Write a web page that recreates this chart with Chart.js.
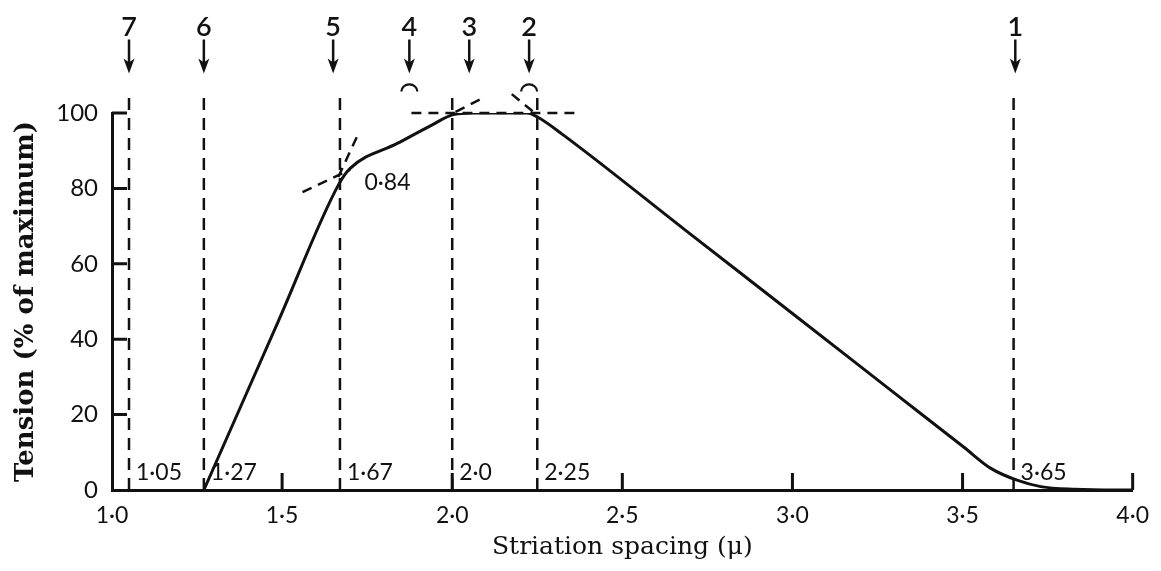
<!DOCTYPE html>
<html>
<head>
<meta charset="utf-8">
<title>Tension vs striation spacing</title>
<script src="https://cdn.jsdelivr.net/npm/chart.js@4.4.1/dist/chart.umd.min.js"></script>
<style>
  html, body { margin: 0; padding: 0; background: #fff; }
  #wrap { width: 1161px; height: 571px; }
</style>
</head>
<body>
<div id="wrap"><canvas id="chart"></canvas></div>
<script>
// length-tension curve
const spacing = [1.27, 1.49, 1.666, 1.70, 1.84, 1.94, 2.0, 2.06, 2.22, 2.253, 2.32, 2.684, 3.016, 3.3, 3.506, 3.582, 3.66, 3.73, 3.83, 3.95, 4.0];
const tension = [0, 45, 81, 85.3, 92, 96.8, 99.5, 100, 100, 98.8, 94.6, 69, 45.7, 25.7, 11.2, 5.8, 2.6, 0.9, 0.2, 0, 0];

// dashed reference spacings and their labels
const markerX = [1.05, 1.27, 1.67, 2.0, 2.25, 3.65];
const markerText = ['1·05', '1·27', '1·67', '2·0', '2·25', '3·65'];
const markerTop = 105.5;

// numbered arrows above the plot
const arrowX = [3.655, 2.226, 2.05, 1.874, 1.65, 1.27, 1.05];
const arrowText = ['1', '2', '3', '4', '5', '6', '7'];
const arrowTop = 119.5;
const arrowTip = 110.5;
const bracketed = ['2', '4'];

// construction lines: plateau and tangents
const plateauLine = [[1.88, 100], [2.37, 100]];
const tangentLines = [
  [[1.56, 79], [1.70, 85]],
  [[1.665, 83], [1.725, 94.7]],
  [[2.01, 100.3], [2.09, 104]],
  [[2.175, 105], [2.24, 100.2]]
];
const slopeNote = { x: 1.745, y: 81.5, text: '0·84' };

const xTicks = [1.0, 1.5, 2.0, 2.5, 3.0, 3.5, 4.0];
const yTicks = [0, 20, 40, 60, 80, 100];

const ink = '#111';
const sans = 'Lato, "Open Sans", sans-serif';
const serif = '"DejaVu Serif", "Liberation Serif", serif';

function segments(list) {
  const pts = [];
  list.forEach(seg => {
    seg.forEach(p => pts.push({ x: p[0], y: p[1] }));
    pts.push({ x: seg[seg.length - 1][0], y: null });
  });
  return pts;
}

const curve = spacing.map((s, i) => ({ x: s, y: tension[i] }));
const verticals = segments(markerX.map(v => [[v, 0], [v, markerTop]]));
const guides = segments([plateauLine].concat(tangentLines));
const shafts = segments(arrowX.map(v => [[v, arrowTop], [v, arrowTip + 2]]));

// inward tick marks, arrowheads and the text notes around the curve
const notes = {
  id: 'notes',
  afterDatasetsDraw(chart) {
    const { ctx, chartArea, scales: { x, y } } = chart;
    ctx.save();
    ctx.strokeStyle = ink;
    ctx.fillStyle = ink;
    ctx.lineWidth = 3;
    ctx.beginPath();
    yTicks.forEach(v => {
      if (v === 0) return;
      const py = y.getPixelForValue(v);
      ctx.moveTo(chartArea.left, py);
      ctx.lineTo(chartArea.left + 15, py);
    });
    xTicks.forEach(v => {
      if (v === 1.0) return;
      const px = x.getPixelForValue(v);
      ctx.moveTo(px, chartArea.bottom);
      ctx.lineTo(px, chartArea.bottom - 17);
    });
    ctx.stroke();

    // arrowheads
    arrowX.forEach(v => {
      const px = x.getPixelForValue(v);
      const py = y.getPixelForValue(arrowTip);
      ctx.beginPath();
      ctx.moveTo(px, py);
      ctx.lineTo(px - 5.5, py - 15);
      ctx.lineTo(px, py - 11);
      ctx.lineTo(px + 5.5, py - 15);
      ctx.closePath();
      ctx.fill();
    });

    // arrow numbers
    ctx.font = '600 27px ' + sans;
    ctx.textAlign = 'center';
    ctx.textBaseline = 'middle';
    arrowText.forEach((t, i) => {
      ctx.fillText(t, x.getPixelForValue(arrowX[i]), y.getPixelForValue(arrowTop) - 12);
    });

    // small brackets under arrows 2 and 4
    ctx.lineWidth = 2.2;
    bracketed.forEach(t => {
      const i = arrowText.indexOf(t);
      const px = x.getPixelForValue(arrowX[i]);
      const py = y.getPixelForValue(arrowTip) + 18;
      ctx.beginPath();
      ctx.ellipse(px, py, 8, 7, 0, Math.PI, 2 * Math.PI);
      ctx.stroke();
    });

    // spacing labels along the base
    ctx.font = '23px ' + sans;
    ctx.textAlign = 'left';
    markerText.forEach((t, i) => {
      ctx.fillText(t, x.getPixelForValue(markerX[i]) + 7, y.getPixelForValue(4.5));
    });

    ctx.textAlign = 'center';
    ctx.fillText(slopeNote.text, x.getPixelForValue(slopeNote.x) + 22, y.getPixelForValue(slopeNote.y));
    ctx.restore();
  }
};

new Chart(document.getElementById('chart'), {
  type: 'scatter',
  data: {
    datasets: [
      {
        data: curve, showLine: true, borderColor: ink, borderWidth: 3,
        pointRadius: 0, cubicInterpolationMode: 'monotone'
      },
      {
        data: verticals, showLine: true, borderColor: ink, borderWidth: 2.5,
        borderDash: [12, 8], pointRadius: 0, clip: false
      },
      {
        data: guides, showLine: true, borderColor: ink, borderWidth: 2.5,
        borderDash: [10, 7], pointRadius: 0, clip: false
      },
      {
        data: shafts, showLine: true, borderColor: ink, borderWidth: 2.5,
        pointRadius: 0, clip: false
      }
    ]
  },
  options: {
    responsive: true,
    maintainAspectRatio: false,
    animation: false,
    events: [],
    layout: { padding: { top: 113, right: 23, bottom: 0, left: 0 } },
    plugins: { legend: { display: false }, tooltip: { enabled: false } },
    scales: {
      x: {
        type: 'linear', min: 1, max: 4,
        afterFit: s => { s.height = 81; },
        afterBuildTicks: s => { s.ticks = xTicks.map(v => ({ value: v })); },
        grid: { display: false, drawTicks: false },
        border: { display: true, color: ink, width: 3 },
        ticks: {
          padding: 12, color: ink, font: { family: sans, size: 23 },
          maxRotation: 0, autoSkip: false,
          callback: v => v.toFixed(1).replace('.', '·')
        },
        title: {
          display: true, text: 'Striation spacing (μ)', color: ink,
          font: { family: serif, size: 25 }, padding: { top: 0, bottom: 9 }
        }
      },
      y: {
        min: 0, max: 100,
        afterFit: s => { s.width = 112; },
        afterBuildTicks: s => { s.ticks = yTicks.map(v => ({ value: v })); },
        grid: { display: false, drawTicks: false },
        border: { display: true, color: ink, width: 3 },
        ticks: { padding: 14, color: ink, font: { family: sans, size: 24 } },
        title: {
          display: true, text: 'Tension (% of maximum)', color: ink,
          font: { family: serif, size: 26, weight: 'bold' }, padding: { top: 11, bottom: 0 }
        }
      }
    }
  },
  plugins: [notes]
});
</script>
</body>
</html>
